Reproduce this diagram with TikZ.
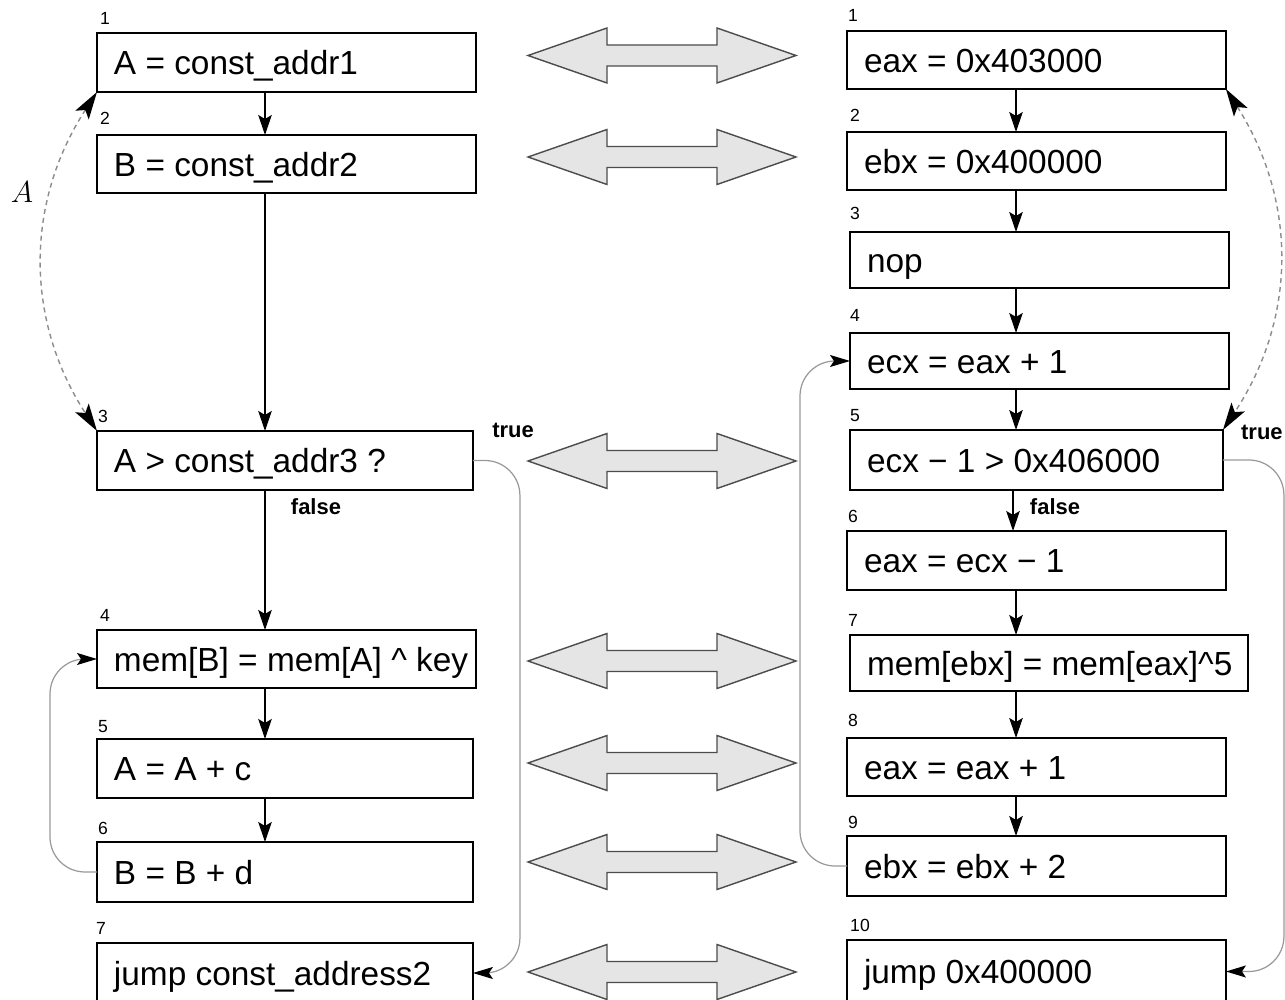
\documentclass[tikz,border=0pt]{standalone}
\usepackage{fontspec}
\setmainfont{Liberation Sans}
\usetikzlibrary{arrows.meta,calc}
\newcommand\bxt[2]{\makebox[#1][l]{\raisebox{0pt}[13.7pt][0pt]{#2}}}
\begin{document}
\begin{tikzpicture}[x=0.02cm,y=-0.02cm,
  box/.style={draw, line width=1.6pt, anchor=north west, inner xsep=0.34cm, inner ysep=0pt,
    outer sep=0pt, minimum height=#1, font=\fontsize{19}{22}\selectfont},
  box/.default=1.18cm,
  num/.style={font=\fontsize{10}{12}\selectfont, inner sep=0pt},
  tf/.style={font=\fontsize{12.5}{14}\selectfont\bfseries, inner sep=0pt},
  flow/.style={line width=1.1pt, -{Stealth[length=0.4cm,width=0.27cm,inset=0.08cm]}},
  back/.style={draw=black!40, line width=0.7pt, rounded corners=0.7cm,
    -{Stealth[length=0.4cm,width=0.24cm,inset=0.08cm,color=black]}},
  dasharc/.style={draw=black!45, line width=0.8pt, dash pattern=on 0.1cm off 0.08cm,
    {Stealth[length=0.55cm,width=0.32cm,inset=0.12cm,color=black]}-{Stealth[length=0.55cm,width=0.32cm,inset=0.12cm,color=black]}},
  bigarrow/.style={draw=black!70, line width=0.8pt, fill=black!10, line join=miter}
]
\useasboundingbox (0,0) rectangle (1285,1000);
\clip (0,0) rectangle (1285,1000);

% left column
\node[box] (L1) at (97,33) {\bxt{6.90cm}{A = const\_addr1}};
\node[box=1.16cm] (L2) at (97,135) {\bxt{6.90cm}{B = const\_addr2}};
\node[box] (L3) at (97,431) {\bxt{6.84cm}{A > const\_addr3 ?}};
\node[box=1.16cm] (L4) at (97,630) {\bxt{6.90cm}{mem[B] = mem[A] \textasciicircum{} key}};
\node[box] (L5) at (97,739) {\bxt{6.84cm}{A = A + c}};
\node[box=1.2cm] (L6) at (97,842) {\bxt{6.84cm}{B = B + d}};
\node[box=1.2cm] (L7) at (97,943) {\bxt{6.84cm}{jump const\_address2}};

% right column
\node[box=1.16cm] (R1) at (847,31) {\bxt{6.90cm}{eax = 0x403000}};
\node[box=1.16cm] (R2) at (847,132) {\bxt{6.90cm}{ebx = 0x400000}};
\node[box=1.12cm] (R3) at (850,232) {\bxt{6.90cm}{nop}};
\node[box=1.12cm] (R4) at (850,333) {\bxt{6.90cm}{ecx = eax + 1}};
\node[box=1.2cm] (R5) at (850,430) {\bxt{6.78cm}{ecx − 1 > 0x406000}};
\node[box] (R6) at (847,531) {\bxt{6.90cm}{eax = ecx − 1}};
\node[box=1.12cm] (R7) at (850,635) {\bxt{7.28cm}{mem[ebx] = mem[eax]\textasciicircum 5}};
\node[box=1.16cm] (R8) at (847,738) {\bxt{6.90cm}{eax = eax + 1}};
\node[box=1.2cm] (R9) at (847,836) {\bxt{6.90cm}{ebx = ebx + 2}};
\node[box=1.26cm] (R10) at (847,940) {\bxt{6.90cm}{jump 0x400000}};

% numbers
\node[num] (nl1) at (105,18) {1};
\node[num] (nl2) at (105,118) {2};
\node[num] (nl3) at (103,416) {3};
\node[num] (nl4) at (105,615) {4};
\node[num] (nl5) at (103,727) {5};
\node[num] (nl6) at (103,828) {6};
\node[num] (nl7) at (101,928) {7};
\node[num] (nr1) at (853,15) {1};
\node[num] (nr2) at (855,115) {2};
\node[num] (nr3) at (855,213) {3};
\node[num] (nr4) at (855,315) {4};
\node[num] (nr5) at (855,416) {5};
\node[num] (nr6) at (853,516) {6};
\node[num] (nr7) at (853,620) {7};
\node[num] (nr8) at (853,720) {8};
\node[num] (nr9) at (853,822) {9};
\node[num] (nr10) at (860,925) {10};

% true / false
\node[tf] (tl) at (513,430) {true};
\node[tf] (fl) at (316,507) {false};
\node[tf] (fr) at (1055,507) {false};
\node[tf, anchor=east] (tr) at (1283,432) {true};

\node[font=\fontsize{17}{20}\selectfont, inner sep=0pt] (lblA) at (22,192) {$A$};

% straight flow
\coordinate (cl) at (265,0);
\coordinate (cr) at (1016,0);
\coordinate (cr2) at (1013,0);
\draw[flow] (L1.south -| cl) -- (L2.north -| cl);
\draw[flow] (L2.south -| cl) -- (L3.north -| cl);
\draw[flow] (L3.south -| cl) -- (L4.north -| cl);
\draw[flow] (L4.south -| cl) -- (L5.north -| cl);
\draw[flow] (L5.south -| cl) -- (L6.north -| cl);

\draw[flow] (R1.south -| cr) -- (R2.north -| cr);
\draw[flow] (R2.south -| cr) -- (R3.north -| cr);
\draw[flow] (R3.south -| cr) -- (R4.north -| cr);
\draw[flow] (R4.south -| cr) -- (R5.north -| cr);
\draw[flow] (R5.south -| cr2) -- (R6.north -| cr2);
\draw[flow] (R6.south -| cr) -- (R7.north -| cr);
\draw[flow] (R7.south -| cr) -- (R8.north -| cr);
\draw[flow] (R8.south -| cr) -- (R9.north -| cr);

% back edges
\draw[back] (L6.west) -| ($(L4.west)+(-47,0)$) -- (L4.west);
\draw[back] (L3.east) -| ($(L7.east)+(47,0)$) -- (L7.east);
\draw[back] (R9.west) -| ($(R4.west)+(-50,0)$) -- (R4.west);
\draw[back] (R5.east) -| ($(R10.east)+(58,0)$) -- (R10.east);

% dashed correspondences
\draw[dasharc] (L1.south west) to[bend right=33] (L3.north west);
\draw[dasharc] (R1.south east) to[bend left=33] (R5.north east);

% big double arrows
\foreach \yc in {55.5,157,461,661,763,862,972} {
  \draw[bigarrow] (528,\yc) -- (607,\yc-27.5) -- (607,\yc-10.5) -- (717,\yc-10.5)
    -- (717,\yc-27.5) -- (796,\yc) -- (717,\yc+27.5) -- (717,\yc+10.5)
    -- (607,\yc+10.5) -- (607,\yc+27.5) -- cycle;
}
\end{tikzpicture}
\end{document}
